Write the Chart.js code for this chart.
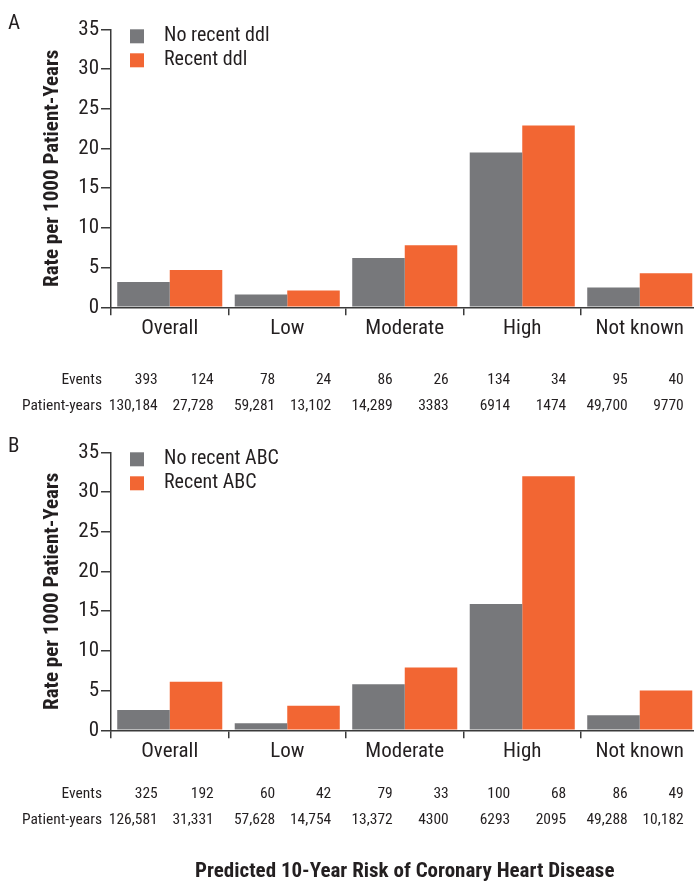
<!DOCTYPE html>
<html>
<head>
<meta charset="utf-8">
<script src="https://cdn.jsdelivr.net/npm/chart.js@4.4.0/dist/chart.umd.min.js"></script>
<style>
  html, body { margin: 0; padding: 0; background: #fff; overflow: hidden; width: 694px; height: 882px; }
  .panel { position: absolute; left: 0; width: 700px; }
  #panelA { top: 0; height: 423px; }
  #panelB { top: 423px; height: 459px; }
</style>
</head>
<body>
<div class="panel" id="panelA"><canvas id="chartA"></canvas></div>
<div class="panel" id="panelB"><canvas id="chartB"></canvas></div>
<script>
// categories and tick values
const categories = ['Overall', 'Low', 'Moderate', 'High', 'Not known'];
const yTickValues = [0, 5, 10, 15, 20, 25, 30, 35];

// panel A: ddl
const ddlLabels = ['No recent ddl', 'Recent ddl'];
const ddlNoRecent = [3.2, 1.6, 6.2, 19.5, 2.5];
const ddlRecent = [4.7, 2.1, 7.8, 22.9, 4.3];
const ddlEventsNo = [393, 78, 86, 134, 95];
const ddlEventsRecent = [124, 24, 26, 34, 40];
const ddlYearsNo = [130184, 59281, 14289, 6914, 49700];
const ddlYearsRecent = [27728, 13102, 3383, 1474, 9770];

// panel B: ABC
const abcLabels = ['No recent ABC', 'Recent ABC'];
const abcNoRecent = [2.55, 0.9, 5.8, 15.9, 1.9];
const abcRecent = [6.1, 3.1, 7.9, 32.0, 5.0];
const abcEventsNo = [325, 60, 79, 100, 86];
const abcEventsRecent = [192, 42, 33, 68, 49];
const abcYearsNo = [126581, 57628, 13372, 6293, 49288];
const abcYearsRecent = [31331, 14754, 4300, 2095, 10182];

const FONT = "'Liberation Sans Narrow', 'Arial Narrow', 'Roboto Condensed', 'DejaVu Sans Condensed', sans-serif";
const INK = '#231f20';
const AXIS = '#3a3a3a';
const GRAY = '#77787b';
const ORANGE = '#f26633';

Chart.defaults.font.family = FONT;
Chart.defaults.color = INK;

// journal style: no comma for 4-digit numbers
function fmt(n) {
    return n >= 10000 ? n.toLocaleString('en-US') : String(n);
}

const extrasPlugin = {
    id: 'extras',
    afterDraw(chart, args, opts) {
        const ctx = chart.ctx;
        const area = chart.chartArea;
        const x = chart.scales.x;
        ctx.save();
        ctx.fillStyle = INK;

        // panel letter
        ctx.font = '21px ' + FONT;
        ctx.textAlign = 'left';
        ctx.textBaseline = 'middle';
        ctx.fillText(opts.letter, 8, area.top - 6);

        // legend inside plot area
        chart.data.datasets.forEach((ds, i) => {
            const top = area.top + 24 * i;
            ctx.fillStyle = ds.backgroundColor;
            ctx.fillRect(area.left + 19, top, 14, 14);
            ctx.fillStyle = INK;
            ctx.font = '20px ' + FONT;
            ctx.fillText(ds.label, area.left + 53, top + 7);
        });

        // events / patient-years table
        const rowEvents = area.bottom + opts.tableOffset;
        const rowYears = rowEvents + 26;
        ctx.font = '15.5px ' + FONT;
        ctx.textAlign = 'right';
        ctx.fillText('Events', 102, rowEvents);
        ctx.fillText('Patient-years', 102, rowYears);
        categories.forEach((c, i) => {
            const cx = x.getPixelForValue(i);
            ctx.fillText(String(opts.eventsNo[i]), cx - 12, rowEvents);
            ctx.fillText(String(opts.eventsRecent[i]), cx + 44, rowEvents);
            ctx.fillText(fmt(opts.yearsNo[i]), cx - 12, rowYears);
            ctx.fillText(fmt(opts.yearsRecent[i]), cx + 44, rowYears);
        });
        ctx.restore();
    }
};

function makeChart(canvasId, cfg) {
    const canvas = document.getElementById(canvasId);
    const h = canvas.parentNode.clientHeight;
    return new Chart(canvas.getContext('2d'), {
        type: 'bar',
        data: {
            labels: categories,
            datasets: [
                { label: cfg.labels[0], data: cfg.noRecent, backgroundColor: GRAY },
                { label: cfg.labels[1], data: cfg.recent, backgroundColor: ORANGE }
            ]
        },
        options: {
            responsive: true,
            maintainAspectRatio: false,
            animation: false,
            devicePixelRatio: 1,
            categoryPercentage: 0.894,
            barPercentage: 1.0,
            layout: { padding: { top: 29.3, right: 1.5, bottom: 0, left: 0 } },
            plugins: {
                legend: { display: false },
                tooltip: { enabled: false },
                extras: {
                    letter: cfg.letter,
                    tableOffset: cfg.tableOffset,
                    eventsNo: cfg.eventsNo,
                    eventsRecent: cfg.eventsRecent,
                    yearsNo: cfg.yearsNo,
                    yearsRecent: cfg.yearsRecent
                }
            },
            scales: {
                x: {
                    grid: { offset: true, drawOnChartArea: false, drawTicks: true, tickLength: 8, color: AXIS, lineWidth: 1.5 },
                    border: { display: true, color: AXIS, width: 1.5 },
                    ticks: { font: { size: 21 }, color: INK, padding: cfg.labelPad, maxRotation: 0 },
                    title: {
                        display: !!cfg.xTitle,
                        text: cfg.xTitle || '',
                        font: { size: 21, weight: 'bold', lineHeight: 1 },
                        color: INK,
                        padding: 0
                    },
                    afterFit(scale) { scale.height = h - 307.3; }
                },
                y: {
                    min: 0,
                    max: 35,
                    afterBuildTicks(scale) { scale.ticks = yTickValues.map(v => ({ value: v })); },
                    grid: { drawOnChartArea: false, drawTicks: true, tickLength: 10, color: AXIS, lineWidth: 1.5 },
                    border: { display: true, color: AXIS, width: 1.5 },
                    ticks: { font: { size: 21 }, color: INK, padding: 2 },
                    title: {
                        display: true,
                        text: 'Rate per 1000 Patient-Years',
                        font: { size: 21, weight: 'bold' },
                        color: INK,
                        padding: { top: 40.4, bottom: 0 }
                    },
                    afterFit(scale) { scale.width = 111; }
                }
            }
        },
        plugins: [extrasPlugin]
    });
}

makeChart('chartA', {
    letter: 'A', labels: ddlLabels, noRecent: ddlNoRecent, recent: ddlRecent,
    eventsNo: ddlEventsNo, eventsRecent: ddlEventsRecent,
    yearsNo: ddlYearsNo, yearsRecent: ddlYearsRecent,
    tableOffset: 73, labelPad: 1, xTitle: null
});

makeChart('chartB', {
    letter: 'B', labels: abcLabels, noRecent: abcNoRecent, recent: abcRecent,
    eventsNo: abcEventsNo, eventsRecent: abcEventsRecent,
    yearsNo: abcYearsNo, yearsRecent: abcYearsRecent,
    tableOffset: 64, labelPad: 1, xTitle: 'Predicted 10-Year Risk of Coronary Heart Disease'
});
</script>
</body>
</html>
